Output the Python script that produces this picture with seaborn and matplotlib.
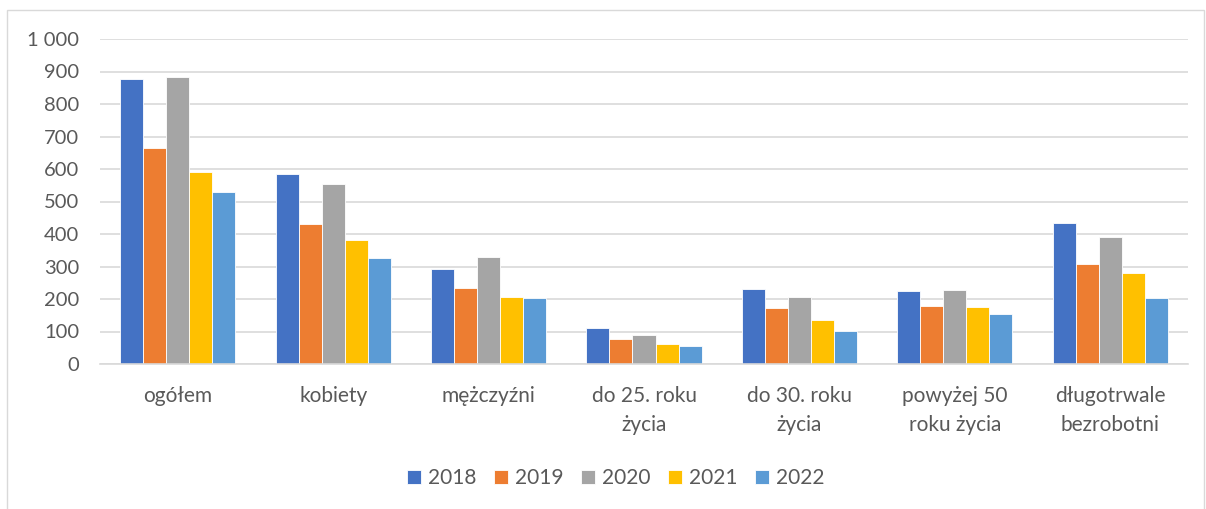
import matplotlib
matplotlib.use("Agg")
import matplotlib.pyplot as plt
import matplotlib.ticker as mticker
from matplotlib.patches import Rectangle
import seaborn as sns
import pandas as pd

categories = ["ogółem", "kobiety", "mężczyźni", "do 25. roku\nżycia",
              "do 30. roku\nżycia", "powyżej 50\nroku życia", "długotrwale\nbezrobotni"]
years = ["2018", "2019", "2020", "2021", "2022"]
v2018 = [877, 584, 293, 111, 232, 226, 433]
v2019 = [664, 430, 234, 76, 171, 179, 308]
v2020 = [882, 553, 328, 89, 206, 228, 390]
v2021 = [592, 383, 207, 61, 135, 174, 279]
v2022 = [529, 325, 204, 54, 103, 155, 203]
colors = ["#4472C4", "#ED7D31", "#A5A5A5", "#FFC000", "#5B9BD5"]

rows = []
for y, vals in zip(years, [v2018, v2019, v2020, v2021, v2022]):
    for c, v in zip(categories, vals):
        rows.append({"kategoria": c, "rok": y, "wartość": v})
df = pd.DataFrame(rows)

sns.set_theme(style="white")
plt.rcParams["font.family"] = ["Lato", "DejaVu Sans"]

fig = plt.figure(figsize=(12.06, 5.09), dpi=100)
ax = fig.add_axes([100 / 1206, 1 - 364 / 509, 1088 / 1206, 325 / 509])

sns.barplot(data=df, x="kategoria", y="wartość", hue="rok", palette=colors,
            width=0.74, ax=ax, saturation=1, edgecolor="white", linewidth=0.6)

ax.set_ylim(0, 1000)
ax.set_yticks(range(0, 1001, 100))
ax.yaxis.set_major_formatter(mticker.FuncFormatter(lambda v, p: f"{int(v):,}".replace(",", " ")))
ax.grid(axis="y", color="#D9D9D9", linewidth=1.2)
ax.set_axisbelow(True)
for s in ["left", "right", "top"]:
    ax.spines[s].set_visible(False)
ax.spines["bottom"].set_color("#D9D9D9")
ax.spines["bottom"].set_linewidth(1.2)
ax.set_xlabel("")
ax.set_ylabel("")
ax.tick_params(axis="y", labelsize=14.5, colors="#595959", length=0, pad=15)
ax.tick_params(axis="x", labelsize=15, colors="#595959", length=0, pad=16)
for t in ax.get_xticklabels():
    t.set_linespacing(1.55)

leg = ax.legend(loc="center", bbox_to_anchor=((616 - 100) / 1088, (364 - 478) / 325), ncol=5,
                frameon=False, fontsize=15, handlelength=0.65, handleheight=0.65,
                handletextpad=0.35, columnspacing=0.85, labelcolor="#595959")

fig.patches.append(Rectangle((7 / 1206, -0.01), 1197 / 1206, 1 - 10 / 509 + 0.01,
                             transform=fig.transFigure, fill=False,
                             edgecolor="#D9D9D9", linewidth=1))

fig.savefig("out.png", dpi=100)
